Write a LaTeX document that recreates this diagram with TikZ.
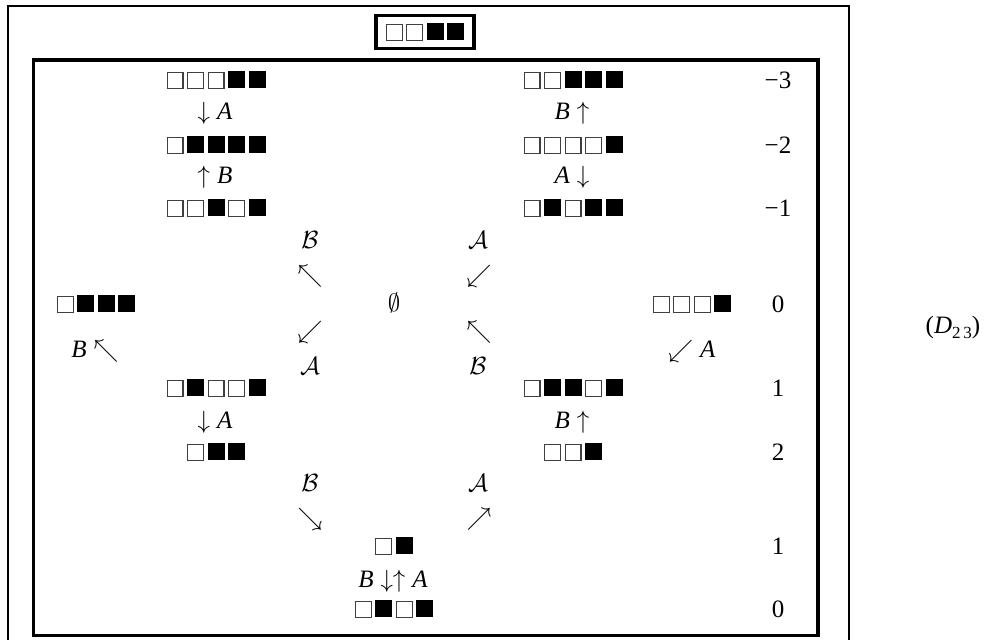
\documentclass[tikz,border=0pt]{standalone}
\usepackage{fontspec}
\setmainfont{Liberation Serif}
\newcommand\Wq{{\color{black!75}\fboxsep=0pt\fboxrule=1.2pt\fbox{\rule{0pt}{14.6pt}\hspace{14.6pt}}}}
\newcommand\Kq{\rule{17pt}{17pt}}
\newcommand\gp{\hspace{3.5pt}}
\tikzset{
  txt/.style={inner sep=0pt, anchor=center, font=\fontsize{25}{30}\selectfont},
  sqrow/.style={inner sep=0pt, anchor=center},
  frameline/.style={line width=#1, draw=black},
}
\begin{document}
\begin{tikzpicture}[x=1pt,y=-1pt]
\useasboundingbox (0,0) rectangle (991,640);
% frames
\draw[frameline=2.3pt] (8,660) -- (8,6) -- (849,6) -- (849,660);
\draw[frameline=3.3pt] (33.7,60) rectangle (818,635.5);
\node[sqrow, draw, line width=3.3pt, minimum width=98pt, minimum height=33pt] (top) at (425,32) {\Wq\gp\Wq\gp\Kq\gp\Kq};
% left column
\node[sqrow] (l3) at (216,80) {\Wq\gp\Wq\gp\Wq\gp\Kq\gp\Kq};
\node[txt] (la1) at (215,113) {$\downarrow$\;\textit{A}};
\node[sqrow] (l2) at (216,145) {\Wq\gp\Kq\gp\Kq\gp\Kq\gp\Kq};
\node[txt] (la2) at (215,177) {$\uparrow$\;\textit{B}};
\node[sqrow] (l1) at (216,208) {\Wq\gp\Wq\gp\Kq\gp\Wq\gp\Kq};
% right column
\node[sqrow] (r3) at (573,80) {\Wq\gp\Wq\gp\Kq\gp\Kq\gp\Kq};
\node[txt] (ra1) at (572,113) {\textit{B}\;$\uparrow$};
\node[sqrow] (r2) at (573,145) {\Wq\gp\Wq\gp\Wq\gp\Wq\gp\Kq};
\node[txt] (ra2) at (572,177) {\textit{A}\;$\downarrow$};
\node[sqrow] (r1) at (573,208) {\Wq\gp\Kq\gp\Wq\gp\Kq\gp\Kq};
% numbers
\node[txt] (n3) at (778,80) {−3};
\node[txt] (n2) at (778,145) {−2};
\node[txt] (n1) at (778,208) {−1};
\node[txt] (n0) at (778,304) {0};
\node[txt] (p1) at (778,388) {1};
\node[txt] (p2) at (778,452) {2};
\node[txt] (q1) at (778,546) {1};
\node[txt] (q0) at (778,609) {0};
% centre cross
\node[txt] (cB1) at (310,240) {$\mathcal{B}$};
\node[txt] (cA1) at (478,240) {$\mathcal{A}$};
\node[txt] (d1) at (310,276) {$\nwarrow$};
\node[txt] (d2) at (479,276) {$\swarrow$};
\node[txt] (empty) at (394,303) {$\emptyset$};
\node[txt] (d3) at (310,332) {$\swarrow$};
\node[txt] (d4) at (479,332) {$\nwarrow$};
\node[txt] (cA2) at (310,366) {$\mathcal{A}$};
\node[txt] (cB2) at (478,366) {$\mathcal{B}$};
% middle row sides
\node[sqrow] (m0) at (96,304) {\Wq\gp\Kq\gp\Kq\gp\Kq};
\node[txt] (mb) at (95,351) {\textit{B}\;$\nwarrow$};
\node[sqrow] (m1) at (692,304) {\Wq\gp\Wq\gp\Wq\gp\Kq};
\node[txt] (ma) at (692,351) {$\swarrow$\;\textit{A}};
% lower left/right
\node[sqrow] (l4) at (216,388) {\Wq\gp\Kq\gp\Wq\gp\Wq\gp\Kq};
\node[txt] (la3) at (215,422) {$\downarrow$\;\textit{A}};
\node[sqrow] (l5) at (216,452) {\Wq\gp\Kq\gp\Kq};
\node[sqrow] (r4) at (573,388) {\Wq\gp\Kq\gp\Kq\gp\Wq\gp\Kq};
\node[txt] (ra3) at (572,422) {\textit{B}\;$\uparrow$};
\node[sqrow] (r5) at (573,452) {\Wq\gp\Wq\gp\Kq};
% bottom
\node[txt] (bB) at (310,483) {$\mathcal{B}$};
\node[txt] (bA) at (478,483) {$\mathcal{A}$};
\node[txt] (e1) at (310,519) {$\searrow$};
\node[txt] (e2) at (479,519) {$\nearrow$};
\node[sqrow] (b1) at (394,546) {\Wq\gp\Kq};
\node[txt] (bab) at (393,581) {\textit{B}\;$\downarrow\uparrow$\;\textit{A}};
\node[sqrow] (b0) at (394,609) {\Wq\gp\Kq\gp\Wq\gp\Kq};
% label
\node[txt] (lab) at (953,327) {(\textit{D}\raisebox{-5pt}{\fontsize{17}{17}\selectfont 2\,3})};
\end{tikzpicture}
\end{document}
